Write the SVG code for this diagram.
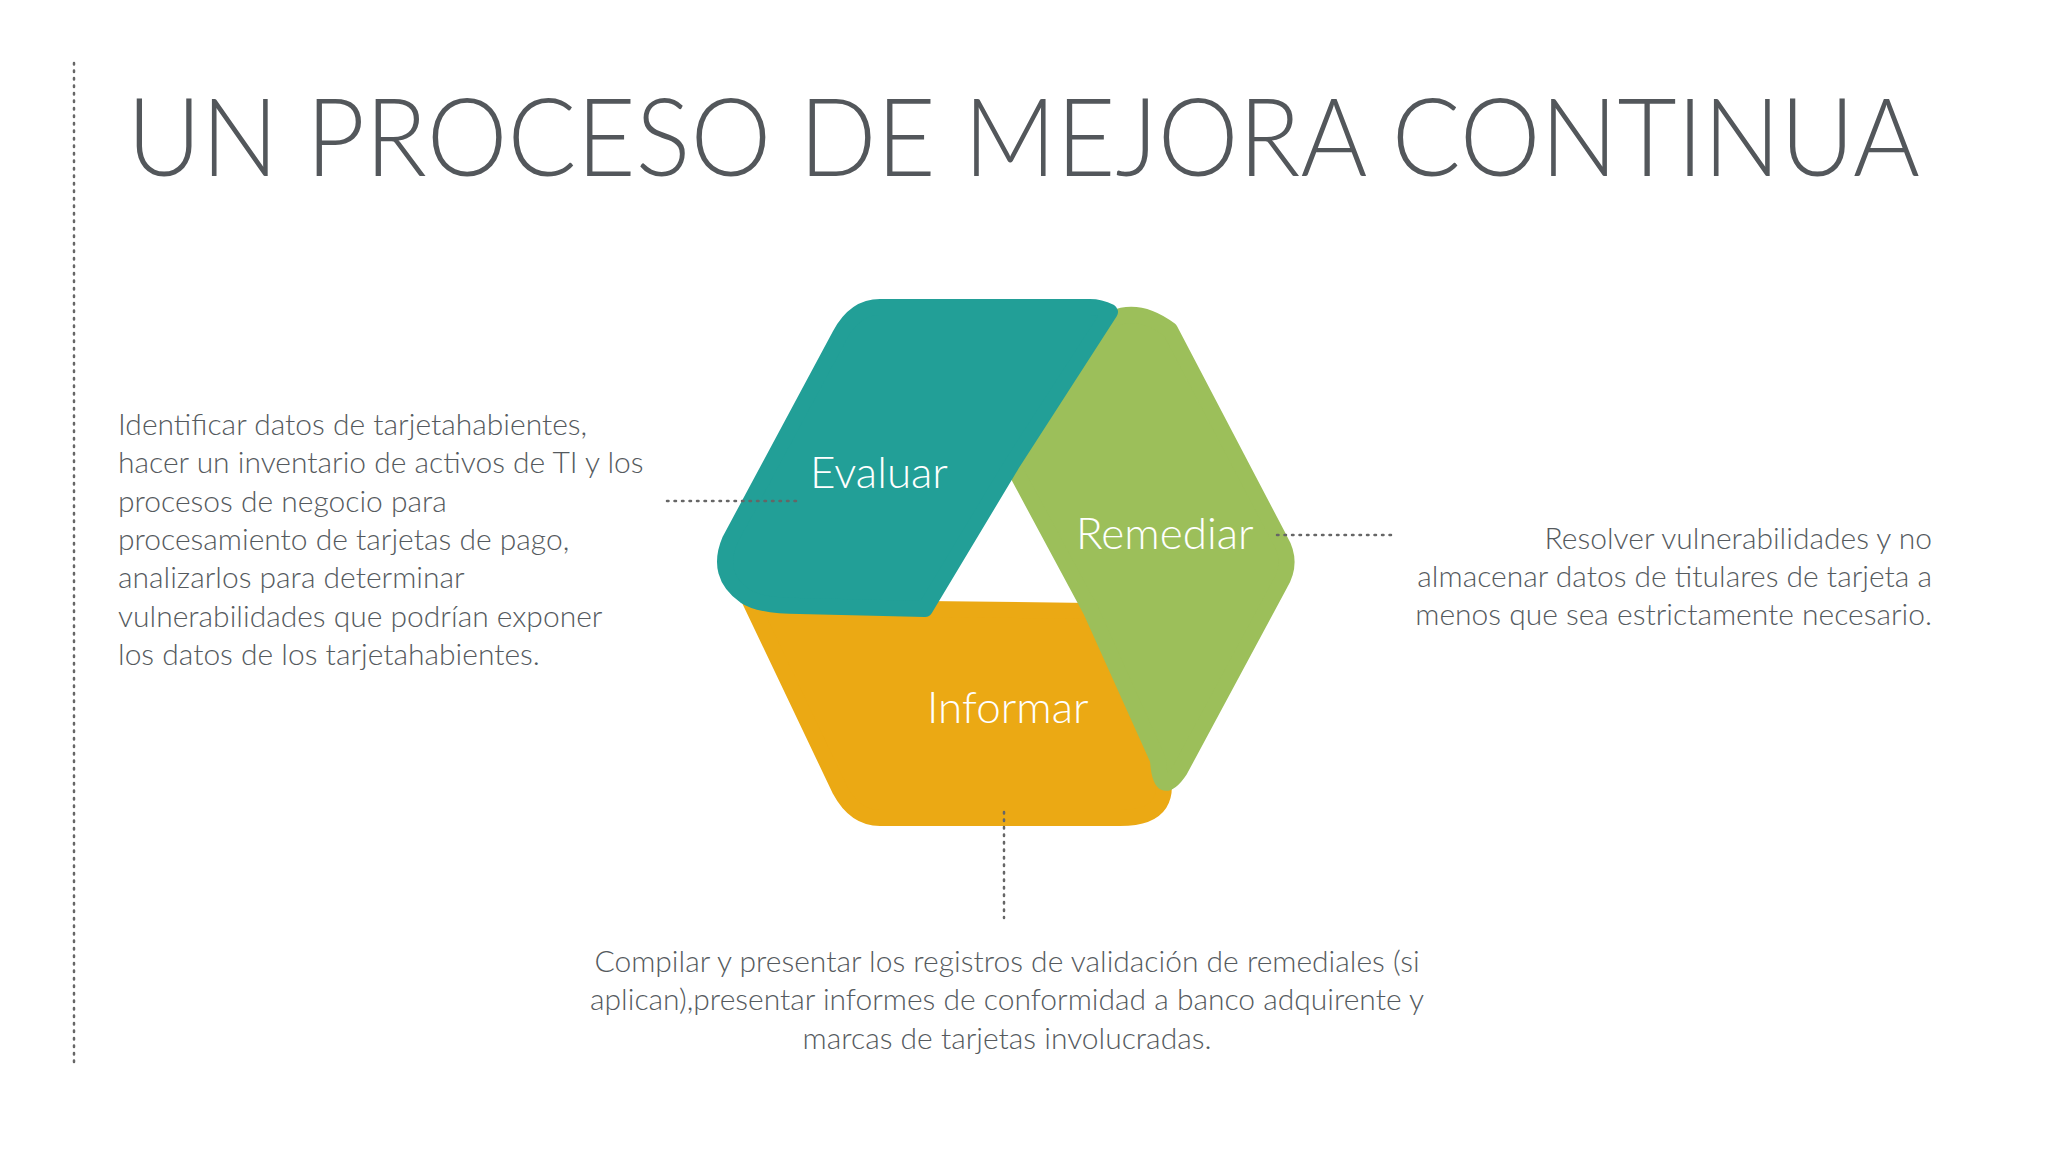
<svg xmlns="http://www.w3.org/2000/svg" width="2048" height="1152" viewBox="0 0 2048 1152">
<style>
.t{font-family:Lato,"Open Sans",sans-serif;font-weight:300;fill:#555a5e;font-size:30px}
.lbl{font-family:Lato,"Open Sans",sans-serif;font-weight:300;fill:#fff;font-size:44px}
.dot{stroke:#666;stroke-width:2.5;stroke-dasharray:1.5 6;stroke-linecap:round;fill:none}
</style>
<rect width="2048" height="1152" fill="#fff"/>
<line class="dot" x1="74" y1="63" x2="74" y2="1064"/>
<text x="127" y="176" font-family="Lato,sans-serif" font-weight="300" font-size="108" fill="#53575b" textLength="1793" lengthAdjust="spacingAndGlyphs">UN PROCESO DE MEJORA CONTINUA</text>
<g id="orange">
<path d="M740,580 Q760,605 800,606 L925,609 L1091,611 L1158,760 Q1180,818 1120,818 L880,818 Q855,818 840,790 Z" fill="#eba914" stroke="#eba914" stroke-width="16" stroke-linejoin="round"/>
</g>
<g id="green">
<path d="M1091,611 L1012,464 L1095,330 Q1130,300 1170,330 L1280,540 Q1293,562 1280,584 L1180,770 Q1160,800 1158,760 Z" fill="#9cbf5a" stroke="#9cbf5a" stroke-width="16" stroke-linejoin="round"/>
</g>
<g id="teal">
<path d="M1012,464 L1110,312 Q1100,307 1090,307 L880,307 Q855,307 840,335 L730,540 Q715,575 745,596 Q760,606 800,606 L925,609 Z" fill="#229f97" stroke="#229f97" stroke-width="16" stroke-linejoin="round"/>
</g>
<g id="labels">
<text class="lbl" x="810" y="488">Evaluar</text>
<text class="lbl" x="1076" y="549">Remediar</text>
<text class="lbl" x="927" y="723">Informar</text>
</g>
<g id="connectors">
<line class="dot" x1="667" y1="501" x2="797" y2="501"/>
<line class="dot" x1="1277" y1="535" x2="1395" y2="535"/>
<line class="dot" x1="1004" y1="812" x2="1004" y2="918"/>
</g>
<g id="left-text">
<text class="t" x="118" y="435">Identificar datos de tarjetahabientes,</text>
<text class="t" x="118" y="473">hacer un inventario de activos de TI y los</text>
<text class="t" x="118" y="512">procesos de negocio  para</text>
<text class="t" x="118" y="550">procesamiento de tarjetas de pago,</text>
<text class="t" x="118" y="588">analizarlos para determinar</text>
<text class="t" x="118" y="627">vulnerabilidades que podrían exponer</text>
<text class="t" x="118" y="665">los datos de los tarjetahabientes.</text>
</g>
<g id="right-text" text-anchor="end">
<text class="t" x="1932" y="549">Resolver vulnerabilidades y no</text>
<text class="t" x="1932" y="587">almacenar datos de titulares de tarjeta a</text>
<text class="t" x="1932" y="625">menos que sea estrictamente necesario.</text>
</g>
<g id="bottom-text" text-anchor="middle">
<text class="t" x="1007" y="972">Compilar y presentar los registros de validación de remediales (si</text>
<text class="t" x="1007" y="1010">aplican),presentar informes de conformidad a banco adquirente y</text>
<text class="t" x="1007" y="1049">marcas de tarjetas involucradas.</text>
</g>
</svg>
